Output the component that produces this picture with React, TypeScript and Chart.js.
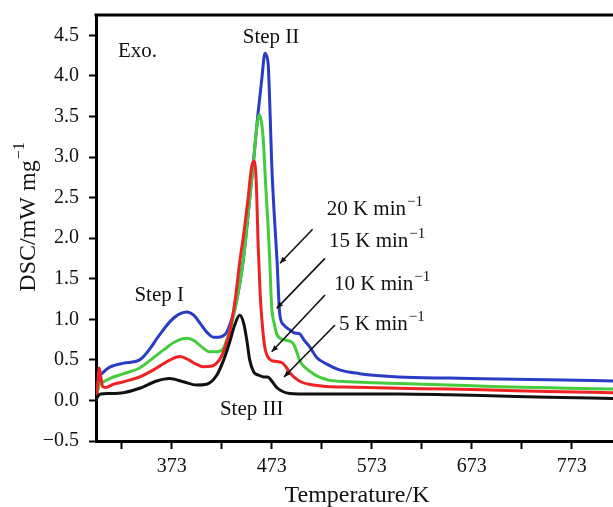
import React, { useEffect, useRef } from 'react';
import { Chart, registerables } from 'chart.js';

Chart.register(...registerables);

// ---- axis ranges & ticks ----
const X_MIN = 297.3;
const X_MAX = 814.3;
const Y_MIN = -0.5;
const Y_MAX = 4.75;
const xTickValues = [323, 373, 423, 473, 523, 573, 623, 673, 723, 773];
const xTickLabels = ['', '373', '', '473', '', '573', '', '673', '', '773'];

// ---- series (temperature K, DSC mW/mg) ----
const rate5: [number, number][] = [
  [297.3, 0.0], [299, 0.05], [302, 0.08], [310, 0.085], [324.6, 0.095], [341, 0.15], [358, 0.24],
  [371, 0.27], [384.6, 0.23], [398, 0.19], [408, 0.2], [418, 0.31], [425, 0.5], [431, 0.72],
  [436, 0.93], [441, 1.05], [445, 0.95], [448, 0.75], [451, 0.5], [455, 0.35], [460, 0.31],
  [465, 0.29], [469, 0.29], [473, 0.24], [478, 0.16], [484, 0.11], [491, 0.085], [500, 0.08],
  [550, 0.08], [600, 0.08], [650, 0.07], [700, 0.055], [750, 0.04], [814.3, 0.025],
];
const rate10: [number, number][] = [
  [297.3, 0.02], [299, 0.2], [300.5, 0.4], [302, 0.3], [304, 0.17], [307, 0.16], [315, 0.2],
  [324.6, 0.23], [341, 0.29], [358, 0.4], [370, 0.49], [381, 0.54], [390, 0.5], [397, 0.45],
  [404.6, 0.415], [412, 0.42], [418, 0.46], [423, 0.55], [427, 0.68], [431, 0.85], [436, 1.2],
  [441.3, 1.73], [445, 2.05], [449, 2.45], [453, 2.88], [455.5, 2.95], [457.5, 2.7], [459.5, 1.9],
  [461.5, 1.3], [463.5, 0.95], [466, 0.66], [469, 0.54], [473, 0.49], [478, 0.48], [484, 0.46],
  [488, 0.4], [492, 0.33], [496, 0.28], [502, 0.23], [510, 0.2], [525, 0.175], [545, 0.165],
  [600, 0.15], [650, 0.14], [700, 0.125], [750, 0.11], [814.3, 0.095],
];
const rate15: [number, number][] = [
  [297.3, 0.0], [299, 0.12], [301, 0.2], [305, 0.23], [311, 0.27], [325, 0.33], [341, 0.4],
  [352, 0.5], [364.6, 0.62], [376, 0.72], [388, 0.765], [395, 0.74], [403, 0.66], [411, 0.6],
  [418, 0.6], [424, 0.63], [429, 0.78], [434, 1.0], [439, 1.3], [444.6, 1.73], [449.5, 2.3],
  [454.6, 2.92], [458, 3.35], [460.6, 3.52], [462.5, 3.45], [464.6, 3.21], [467, 2.65],
  [469.6, 2.1], [471, 1.73], [473, 1.15], [475.5, 0.95], [478, 0.82], [482, 0.76], [488, 0.74],
  [494.6, 0.7], [498, 0.6], [501, 0.49], [507, 0.4], [514.6, 0.33], [522, 0.28], [530, 0.25],
  [550, 0.23], [600, 0.21], [650, 0.19], [700, 0.17], [750, 0.155], [814.3, 0.14],
];
const rate20: [number, number][] = [
  [297.3, 0.0], [299, 0.2], [301, 0.3], [304, 0.34], [311, 0.41], [325, 0.46], [341, 0.5],
  [352, 0.65], [358, 0.76], [364.6, 0.87], [372, 0.98], [380, 1.06], [388, 1.09], [395, 1.05],
  [402, 0.94], [409, 0.83], [414.6, 0.78], [420, 0.78], [425, 0.8], [428, 0.84], [433, 1.0],
  [438, 1.23], [444.6, 1.73], [449.5, 2.3], [454.6, 2.92], [459, 3.5], [463, 3.95], [466.3, 4.28],
  [467.8, 4.25], [469.6, 4.12], [471.5, 3.5], [473, 2.92], [475.5, 2.3], [478.3, 1.73], [481, 1.07],
  [485, 0.93], [491, 0.87], [496, 0.83], [501, 0.82], [505, 0.75], [511, 0.66], [518, 0.53],
  [527.7, 0.45], [540, 0.38], [561, 0.33], [600, 0.29], [650, 0.275], [700, 0.265], [750, 0.255],
  [814.3, 0.24],
];

const seriesNames = ['5 K min', '10 K min', '15 K min', '20 K min'];
const seriesData = [rate5, rate10, rate15, rate20];
const seriesColors = ['#111111', '#ee2222', '#44cc3c', '#2a3cc4'];

// ---- annotation texts (data coordinates) ----
const stepNotes = [
  { text: 'Exo.', x: 319.3, y: 4.229, align: 'left' },
  { text: 'Step II', x: 472.3, y: 4.408, align: 'center' },
  { text: 'Step I', x: 360.5, y: 1.229, align: 'center' },
  { text: 'Step III', x: 453, y: -0.18, align: 'center' },
];
const rateNotes = [
  { text: '20 K min', x: 528.0, y: 2.285, fx: 513.9, fy: 2.109, tx: 481.3, ty: 1.69 },
  { text: '15 K min', x: 530.3, y: 1.894, fx: 526.3, fy: 1.751, tx: 478.0, ty: 1.135 },
  { text: '10 K min', x: 535.3, y: 1.361, fx: 526.3, fy: 1.299, tx: 473.0, ty: 0.6 },
  { text: '5 K min', x: 540.3, y: 0.868, fx: 536.3, fy: 0.929, tx: 485.3, ty: 0.288 },
];

const SERIF = "'Liberation Serif', 'Times New Roman', serif";
const TEXT = '#111111';

const notesPlugin = {
  id: 'notes',
  afterDatasetsDraw(chart: any) {
    const { ctx, chartArea, scales } = chart;
    const xs = scales.x;
    const ys = scales.y;
    ctx.save();
    // top frame line
    ctx.strokeStyle = '#000';
    ctx.lineWidth = 3;
    ctx.beginPath();
    ctx.moveTo(chartArea.left - 1.5, chartArea.top);
    ctx.lineTo(chartArea.right, chartArea.top);
    ctx.stroke();

    ctx.fillStyle = TEXT;
    ctx.textBaseline = 'alphabetic';
    ctx.font = `21px ${SERIF}`;
    for (const n of stepNotes) {
      ctx.textAlign = n.align as CanvasTextAlign;
      ctx.fillText(n.text, xs.getPixelForValue(n.x), ys.getPixelForValue(n.y));
    }
    for (const n of rateNotes) {
      const px = xs.getPixelForValue(n.x);
      const py = ys.getPixelForValue(n.y);
      ctx.textAlign = 'left';
      ctx.font = `21px ${SERIF}`;
      ctx.fillText(n.text, px, py);
      const w = ctx.measureText(n.text).width;
      ctx.font = `15px ${SERIF}`;
      ctx.fillText('\u22121', px + w + 1, py - 9);
      // arrow
      const x1 = xs.getPixelForValue(n.fx);
      const y1 = ys.getPixelForValue(n.fy);
      const x2 = xs.getPixelForValue(n.tx);
      const y2 = ys.getPixelForValue(n.ty);
      ctx.strokeStyle = '#111';
      ctx.lineWidth = 1.6;
      ctx.beginPath();
      ctx.moveTo(x1, y1);
      ctx.lineTo(x2, y2);
      ctx.stroke();
      const ang = Math.atan2(y2 - y1, x2 - x1);
      const L = 7;
      ctx.beginPath();
      ctx.moveTo(x2, y2);
      ctx.lineTo(x2 - L * Math.cos(ang - 0.4), y2 - L * Math.sin(ang - 0.4));
      ctx.lineTo(x2 - L * Math.cos(ang + 0.4), y2 - L * Math.sin(ang + 0.4));
      ctx.closePath();
      ctx.fillStyle = '#111';
      ctx.fill();
      ctx.fillStyle = TEXT;
    }

    // x axis title
    ctx.font = `24px ${SERIF}`;
    ctx.textAlign = 'center';
    ctx.fillText('Temperature/K', 357, 502);

    // y axis title (rotated, with superscript)
    ctx.translate(35, 217.5);
    ctx.rotate(-Math.PI / 2);
    ctx.font = `24px ${SERIF}`;
    const main = 'DSC/mW mg';
    const w1 = ctx.measureText(main).width;
    ctx.font = `16px ${SERIF}`;
    const w2 = ctx.measureText('\u22121').width;
    const start = -(w1 + w2) / 2;
    ctx.textAlign = 'left';
    ctx.font = `24px ${SERIF}`;
    ctx.fillText(main, start, 0);
    ctx.font = `16px ${SERIF}`;
    ctx.fillText('\u22121', start + w1 + 1, -11);
    ctx.restore();
  },
};

export default function App() {
  const ref = useRef<HTMLCanvasElement>(null);
  useEffect(() => {
    const canvas = ref.current!;
    const chart = new Chart(canvas, {
      type: 'line',
      data: {
        datasets: seriesData.map((d, i) => ({
          label: seriesNames[i],
          data: d.map(([x, y]) => ({ x, y })),
          borderColor: seriesColors[i],
          backgroundColor: seriesColors[i],
          borderWidth: 3,
          pointRadius: 0,
          cubicInterpolationMode: 'monotone' as const,
          fill: false,
        })),
      },
      options: {
        responsive: false,
        animation: false,
        devicePixelRatio: 1,
        layout: { padding: { top: 15, left: 0, right: 0, bottom: 0 } },
        plugins: { legend: { display: false }, tooltip: { enabled: false } },
        scales: {
          x: {
            type: 'linear',
            min: X_MIN,
            max: X_MAX,
            afterFit: (s: any) => { s.height = 66; s.paddingLeft = 0; s.paddingRight = 0; },
            afterBuildTicks: (s: any) => { s.ticks = xTickValues.map((v) => ({ value: v })); },
            ticks: {
              autoSkip: false,
              maxRotation: 0,
              padding: 6,
              color: TEXT,
              font: { family: SERIF, size: 20 },
              callback: (v: any) => xTickLabels[xTickValues.indexOf(Number(v))] ?? '',
            },
            grid: { drawOnChartArea: false, drawTicks: true, tickLength: 8, tickWidth: 2, tickColor: '#000' },
            border: { display: true, width: 3, color: '#000' },
          },
          y: {
            type: 'linear',
            min: Y_MIN,
            max: Y_MAX,
            afterFit: (s: any) => { s.width = 96; s.paddingTop = 0; s.paddingBottom = 0; },
            ticks: {
              stepSize: 0.25,
              padding: 10,
              color: TEXT,
              font: { family: SERIF, size: 20 },
              callback: (v: any) => {
                const n = Number(v);
                const r = Math.round(n * 2) / 2;
                if (Math.abs(n - r) > 1e-6 || n > 4.6) return '';
                return (n < 0 ? '\u2212' : '') + Math.abs(n).toFixed(1);
              },
            },
            grid: { drawOnChartArea: false, drawTicks: true, tickLength: 7, tickWidth: 2, tickColor: '#000' },
            border: { display: true, width: 3, color: '#000' },
          },
        },
      },
      plugins: [notesPlugin],
    });
    return () => chart.destroy();
  }, []);
  return (
    <div style={{ position: 'fixed', left: 0, top: 0, width: 613, height: 507, background: '#fff' }}>
      <canvas ref={ref} width={613} height={507} style={{ display: 'block' }} />
    </div>
  );
}
